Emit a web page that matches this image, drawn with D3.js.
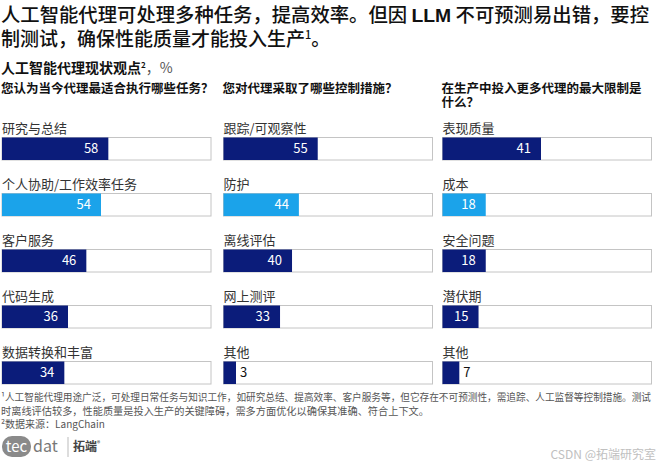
<!DOCTYPE html>
<html>
<head>
<meta charset="utf-8">
<script src="https://cdn.jsdelivr.net/npm/d3@7"></script>
<style>
  body { margin: 0; background: #fff; }
  text { font-family: "Noto Sans CJK SC", "Liberation Sans", sans-serif; }
</style>
</head>
<body>
<div class="chart"></div>
<script>
// survey answers, % of respondents
const questions = [
    ["您认为当今代理最适合执行哪些任务？"],
    ["您对代理采取了哪些控制措施？"],
    ["在生产中投入更多代理的最大限制是", "什么？"]
];
const taskLabels = ["研究与总结", "个人协助/工作效率任务", "客户服务", "代码生成", "数据转换和丰富"];
const taskValues = [58, 54, 46, 36, 34];
const controlLabels = ["跟踪/可观察性", "防护", "离线评估", "网上测评", "其他"];
const controlValues = [55, 44, 40, 33, 3];
const limitLabels = ["表现质量", "成本", "安全问题", "潜伏期", "其他"];
const limitValues = [41, 18, 18, 15, 7];

const footnotes = [
    "¹人工智能代理用途广泛，可处理日常任务与知识工作，如研究总结、提高效率、客户服务等，但它存在不可预测性，需追踪、人工监督等控制措施。测试",
    "时离线评估较多，性能质量是投入生产的关键障碍，需多方面优化以确保其准确、符合上下文。",
    "²数据来源：LangChain"
];

const width = 660, height = 467;
const navy = "#0b1c7a", sky = "#1ba3ea";

const svg = d3.select(".chart")
    .append("svg")
    .attr("width", width)
    .attr("height", height);

// title
const title = svg.append("g").attr("fill", "#111");
let t1 = title.append("text").attr("x", 1).attr("y", 22).attr("font-size", 19).attr("font-weight", 500)
    .attr("textLength", 648).attr("lengthAdjust", "spacingAndGlyphs");
t1.append("tspan").text("人工智能代理可处理多种任务，提高效率。但因 ");
t1.append("tspan").attr("font-family", "Liberation Sans").attr("font-weight", 700).text("LLM");
t1.append("tspan").text(" 不可预测易出错，要控");
let t2 = title.append("text").attr("x", 1).attr("y", 46).attr("font-size", 19).attr("font-weight", 500);
t2.append("tspan").text("制测试，确保性能质量才能投入生产");
t2.append("tspan").attr("font-size", 11).attr("dy", -7).text("1");
t2.append("tspan").attr("dy", 7).text("。");

let sub = svg.append("text").attr("x", 1).attr("y", 73)
    .attr("font-size", 14).attr("font-weight", 700).attr("fill", "#111");
sub.append("tspan").text("人工智能代理现状观点");
sub.append("tspan").attr("font-size", 8).attr("dy", -5).text("2");
sub.append("tspan").attr("dy", 5).attr("font-weight", 400).attr("fill", "#555").text("，%");

const columns = [
    { labels: taskLabels, values: taskValues, max: 114 },
    { labels: controlLabels, values: controlValues, max: 122 },
    { labels: limitLabels, values: limitValues, max: 87 }
];

const colX = d3.scaleOrdinal().domain([0, 1, 2]).range([2, 223.5, 442.5]);
const boxW = 209, barH = 22.5;
const y = d3.scaleLinear().domain([0, 4]).range([137.5, 361.5]);

columns.forEach(function (col, ci) {
    let g = svg.append("g").attr("transform", "translate(" + colX(ci) + ",0)");
    let x = d3.scaleLinear().domain([0, col.max]).range([0, boxW]);

    g.selectAll(".q")
        .data(questions[ci])
        .enter()
        .append("text")
        .attr("x", -1)
        .attr("y", function (d, i) { return 93 + i * 14; })
        .attr("font-size", 12.5)
        .attr("font-weight", 700)
        .attr("fill", "#111")
        .text(function (d) { return d; });

    let rows = g.selectAll(".row")
        .data(col.values)
        .enter()
        .append("g")
        .attr("transform", function (d, i) { return "translate(0," + y(i) + ")"; });

    rows.append("text")
        .attr("x", 0)
        .attr("y", -5)
        .attr("font-size", 13)
        .attr("fill", "#333")
        .text(function (d, i) { return col.labels[i]; });

    rows.append("rect")
        .attr("width", boxW)
        .attr("height", barH)
        .attr("fill", "#fff")
        .attr("stroke", "#c4c4c4")
        .attr("stroke-width", 1);

    rows.append("rect")
        .attr("width", function (d) { return Math.max(x(d), 12.5); })
        .attr("height", barH)
        .attr("fill", function (d, i) { return i === 1 ? sky : navy; });

    rows.append("text")
        .attr("x", function (d) { return d < 10 ? Math.max(x(d), 12.5) + 4 : x(d) - 10; })
        .attr("y", barH / 2 + 4.5)
        .attr("text-anchor", function (d) { return d < 10 ? "start" : "end"; })
        .attr("font-family", "Liberation Sans")
        .attr("font-size", 13)
        .attr("fill", function (d) { return d < 10 ? "#111" : "#fff"; })
        .text(function (d) { return d; });
});

// footnotes
svg.selectAll(".note")
    .data(footnotes)
    .enter()
    .append("text")
    .attr("x", 1)
    .attr("y", function (d, i) { return 401 + i * 13.5; })
    .attr("font-size", 10)
    .attr("fill", "#555")
    .attr("textLength", function (d, i) { return i === 0 ? 650 : (i === 1 ? 428 : null); })
    .attr("lengthAdjust", "spacingAndGlyphs")
    .text(function (d) { return d; });

// logo
let logo = svg.append("g").attr("transform", "translate(2,436)");
logo.append("rect").attr("width", 29).attr("height", 21).attr("rx", 10).attr("fill", "#8a8a8a");
logo.append("text").attr("x", 14.5).attr("y", 15.5).attr("text-anchor", "middle")
    .attr("font-family", "Liberation Sans").attr("font-size", 15).attr("fill", "#fff").text("tec");
logo.append("text").attr("x", 31).attr("y", 15.5)
    .attr("font-family", "Liberation Sans").attr("font-size", 16).attr("fill", "#777").text("dat");
logo.append("line").attr("x1", 66).attr("x2", 66).attr("y1", 1).attr("y2", 21)
    .attr("stroke", "#bbb");
let brand = logo.append("text").attr("x", 71).attr("y", 15).attr("font-size", 12)
    .attr("font-weight", 700).attr("fill", "#444");
brand.append("tspan").text("拓端");
brand.append("tspan").attr("font-size", 6).attr("dy", -5).text("®");

svg.append("text")
    .attr("x", 656)
    .attr("y", 459)
    .attr("text-anchor", "end")
    .attr("font-size", 12)
    .attr("fill", "#c0c0c0")
    .text("CSDN @拓端研究室");
</script>
</body>
</html>
